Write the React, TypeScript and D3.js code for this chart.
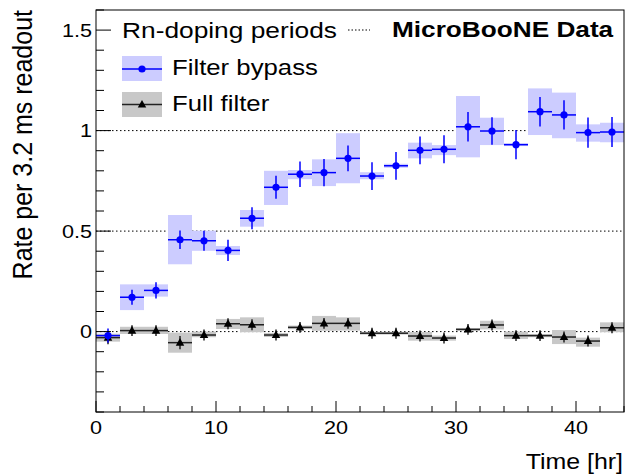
import React from "react";
import * as d3 from "d3";

const times = [1, 3, 5, 7, 9, 11, 13, 15, 17, 19, 21, 23, 25, 27, 29, 31, 33, 35, 37, 39, 41, 43];

const bypassVal = [-0.02, 0.171, 0.205, 0.457, 0.452, 0.404, 0.564, 0.718, 0.783, 0.791, 0.862, 0.774, 0.825, 0.902, 0.907, 1.019, 0.998, 0.93, 1.094, 1.078, 0.99, 0.993];
const bypassStat = [0.035, 0.037, 0.04, 0.046, 0.05, 0.053, 0.055, 0.057, 0.063, 0.068, 0.064, 0.069, 0.069, 0.069, 0.07, 0.073, 0.069, 0.073, 0.073, 0.073, 0.075, 0.075];
const bypassSysLo = [-0.045, 0.107, 0.174, 0.335, 0.402, 0.381, 0.522, 0.63, 0.758, 0.724, 0.738, 0.758, 0.815, 0.862, 0.878, 0.867, 0.928, 0.923, 0.978, 0.962, 0.945, 0.942];
const bypassSysHi = [-0.01, 0.235, 0.235, 0.58, 0.502, 0.426, 0.605, 0.8, 0.804, 0.857, 0.987, 0.793, 0.835, 0.94, 0.928, 1.172, 1.064, 0.937, 1.21, 1.189, 1.031, 1.039];

const fullVal = [-0.03, 0.005, 0.005, -0.055, -0.017, 0.039, 0.034, -0.017, 0.021, 0.041, 0.041, -0.008, -0.008, -0.022, -0.032, 0.011, 0.033, -0.02, -0.02, -0.027, -0.047, 0.019];
const fullStat = [0.033, 0.027, 0.027, 0.033, 0.027, 0.027, 0.027, 0.027, 0.027, 0.027, 0.027, 0.027, 0.027, 0.027, 0.027, 0.027, 0.027, 0.027, 0.027, 0.027, 0.027, 0.027];
const fullSysLo = [-0.05, -0.012, -0.012, -0.105, -0.028, 0.013, -0.003, -0.027, 0.012, 0.004, 0.005, -0.015, -0.015, -0.045, -0.045, 0.004, 0.011, -0.037, -0.028, -0.062, -0.075, -0.003];
const fullSysHi = [-0.012, 0.024, 0.024, -0.005, 0.0, 0.063, 0.071, -0.007, 0.03, 0.078, 0.071, -0.001, -0.001, -0.002, -0.02, 0.018, 0.054, 0.0, -0.012, 0.008, -0.03, 0.046];

const xTicks = [0, 10, 20, 30, 40];
const yTicks = [0, 0.5, 1, 1.5];
const refLines = [0, 0.5, 1];

const W = 632, H = 475;
const L = 96, R = 624, T = 10, B = 412;
const SX = 1.17;
const FONT = "'Liberation Sans', Arial, Helvetica, sans-serif";

const BLUE = "#0000ff";
const BLUE_BAND = "#ccccff";
const GRAY_BAND = "#c8c8c8";

function SText(props: { x: number; y: number; size: number; anchor?: string; weight?: string; children: any }) {
  const { x, y, size, anchor = "start", weight = "normal", children } = props;
  return (
    <text
      transform={`translate(${x},${y}) scale(${SX},1)`}
      fontSize={size}
      fontFamily={FONT}
      fontWeight={weight}
      textAnchor={anchor}
      fill="#000"
    >
      {children}
    </text>
  );
}

function Triangle({ cx, cy, s }: { cx: number; cy: number; s: number }) {
  const h = s * 0.9;
  return <path d={`M${cx},${cy - h * 0.6}L${cx + s / 2},${cy + h * 0.4}L${cx - s / 2},${cy + h * 0.4}Z`} fill="#000" />;
}

export default function App() {
  const x = d3.scaleLinear().domain([0, 44]).range([L, R]);
  const y = d3.scaleLinear().domain([-0.4, 1.6]).range([B, T]);
  const hw = 1;

  const xMinor = d3.range(0, 44.001, 2);
  const yMinor = d3.range(-0.4, 1.6001, 0.1);

  return (
    <svg width={W} height={H} style={{ position: "absolute", left: 0, top: 0, background: "#fff" }}>
      <rect x={0} y={0} width={W} height={H} fill="#fff" />
      {/* reference dotted lines */}
      {refLines.map((v) => (
        <line key={"r" + v} x1={L} x2={R} y1={y(v)} y2={y(v)} stroke="#000" strokeWidth={1} strokeDasharray="1.5,2.5" />
      ))}

      {/* bands */}
      {times.map((t, i) => (
        <rect key={"bb" + i} x={x(t - hw)} width={x(t + hw) - x(t - hw)} y={y(bypassSysHi[i])} height={y(bypassSysLo[i]) - y(bypassSysHi[i])} fill={BLUE_BAND} />
      ))}
      {times.map((t, i) => (
        <rect key={"gb" + i} x={x(t - hw)} width={x(t + hw) - x(t - hw)} y={y(fullSysHi[i])} height={Math.max(2, y(fullSysLo[i]) - y(fullSysHi[i]))} fill={GRAY_BAND} />
      ))}

      {/* full filter points */}
      {times.map((t, i) => (
        <g key={"f" + i}>
          <line x1={x(t - hw)} x2={x(t + hw)} y1={y(fullVal[i])} y2={y(fullVal[i])} stroke="#222" strokeWidth={1.5} />
          <line x1={x(t)} x2={x(t)} y1={y(fullVal[i] + fullStat[i])} y2={y(fullVal[i] - fullStat[i])} stroke="#222" strokeWidth={1.5} />
          <Triangle cx={x(t)} cy={y(fullVal[i])} s={8.5} />
        </g>
      ))}

      {/* filter bypass points */}
      {times.map((t, i) => (
        <g key={"b" + i}>
          <line x1={x(t - hw)} x2={x(t + hw)} y1={y(bypassVal[i])} y2={y(bypassVal[i])} stroke={BLUE} strokeWidth={1.5} />
          <line x1={x(t)} x2={x(t)} y1={y(bypassVal[i] + bypassStat[i])} y2={y(bypassVal[i] - bypassStat[i])} stroke={BLUE} strokeWidth={1.5} />
          <circle cx={x(t)} cy={y(bypassVal[i])} r={3.6} fill={BLUE} />
        </g>
      ))}

      {/* frame */}
      <rect x={L} y={T} width={R - L} height={B - T} fill="none" stroke="#000" strokeWidth={1} />

      {/* x ticks */}
      {xMinor.map((v) => {
        const major = Math.abs(v % 10) < 1e-6;
        return <line key={"xt" + v} x1={x(v)} x2={x(v)} y1={B} y2={B - (major ? 11 : 6)} stroke="#000" strokeWidth={1} />;
      })}
      {xTicks.map((v) => (
        <SText key={"xl" + v} x={x(v)} y={434} size={18.5} anchor="middle">
          {d3.format("d")(v)}
        </SText>
      ))}

      {/* y ticks */}
      {yMinor.map((v, i) => {
        const vv = Math.round(v * 10) / 10;
        const major = Math.abs((vv * 10) % 5) < 1e-6;
        return <line key={"yt" + i} x1={L} x2={L + (major ? 15 : 8)} y1={y(vv)} y2={y(vv)} stroke="#000" strokeWidth={1} />;
      })}
      {yTicks.map((v) => (
        <SText key={"yl" + v} x={92} y={y(v) + 6.5} size={18.5} anchor="end">
          {d3.format("~g")(v)}
        </SText>
      ))}

      {/* axis titles */}
      <SText x={623} y={469} size={21.3} anchor="end">Time [hr]</SText>
      <text transform={`translate(32,${T}) scale(1.08,1) rotate(-90)`} fontSize={25} fontFamily={FONT} textAnchor="end" fill="#000">
        Rate per 3.2 ms readout
      </text>

      {/* legend */}
      <SText x={122} y={38} size={22.5}>Rn-doping periods</SText>
      <line x1={348} x2={370} y1={30} y2={30} stroke="#000" strokeWidth={1} strokeDasharray="1.5,2" />
      <SText x={392} y={37} size={22.4} weight="bold">MicroBooNE Data</SText>

      <rect x={122} y={56} width={40} height={25} fill={BLUE_BAND} />
      <line x1={122} x2={162} y1={69} y2={69} stroke={BLUE} strokeWidth={1.5} />
      <circle cx={142} cy={69} r={3.6} fill={BLUE} />
      <SText x={172} y={75} size={22}>Filter bypass</SText>

      <rect x={122} y={92} width={40} height={25} fill={GRAY_BAND} />
      <line x1={122} x2={162} y1={104.5} y2={104.5} stroke="#222" strokeWidth={1.5} />
      <Triangle cx={142} cy={104.5} s={8.5} />
      <SText x={172} y={111} size={22}>Full filter</SText>
    </svg>
  );
}
